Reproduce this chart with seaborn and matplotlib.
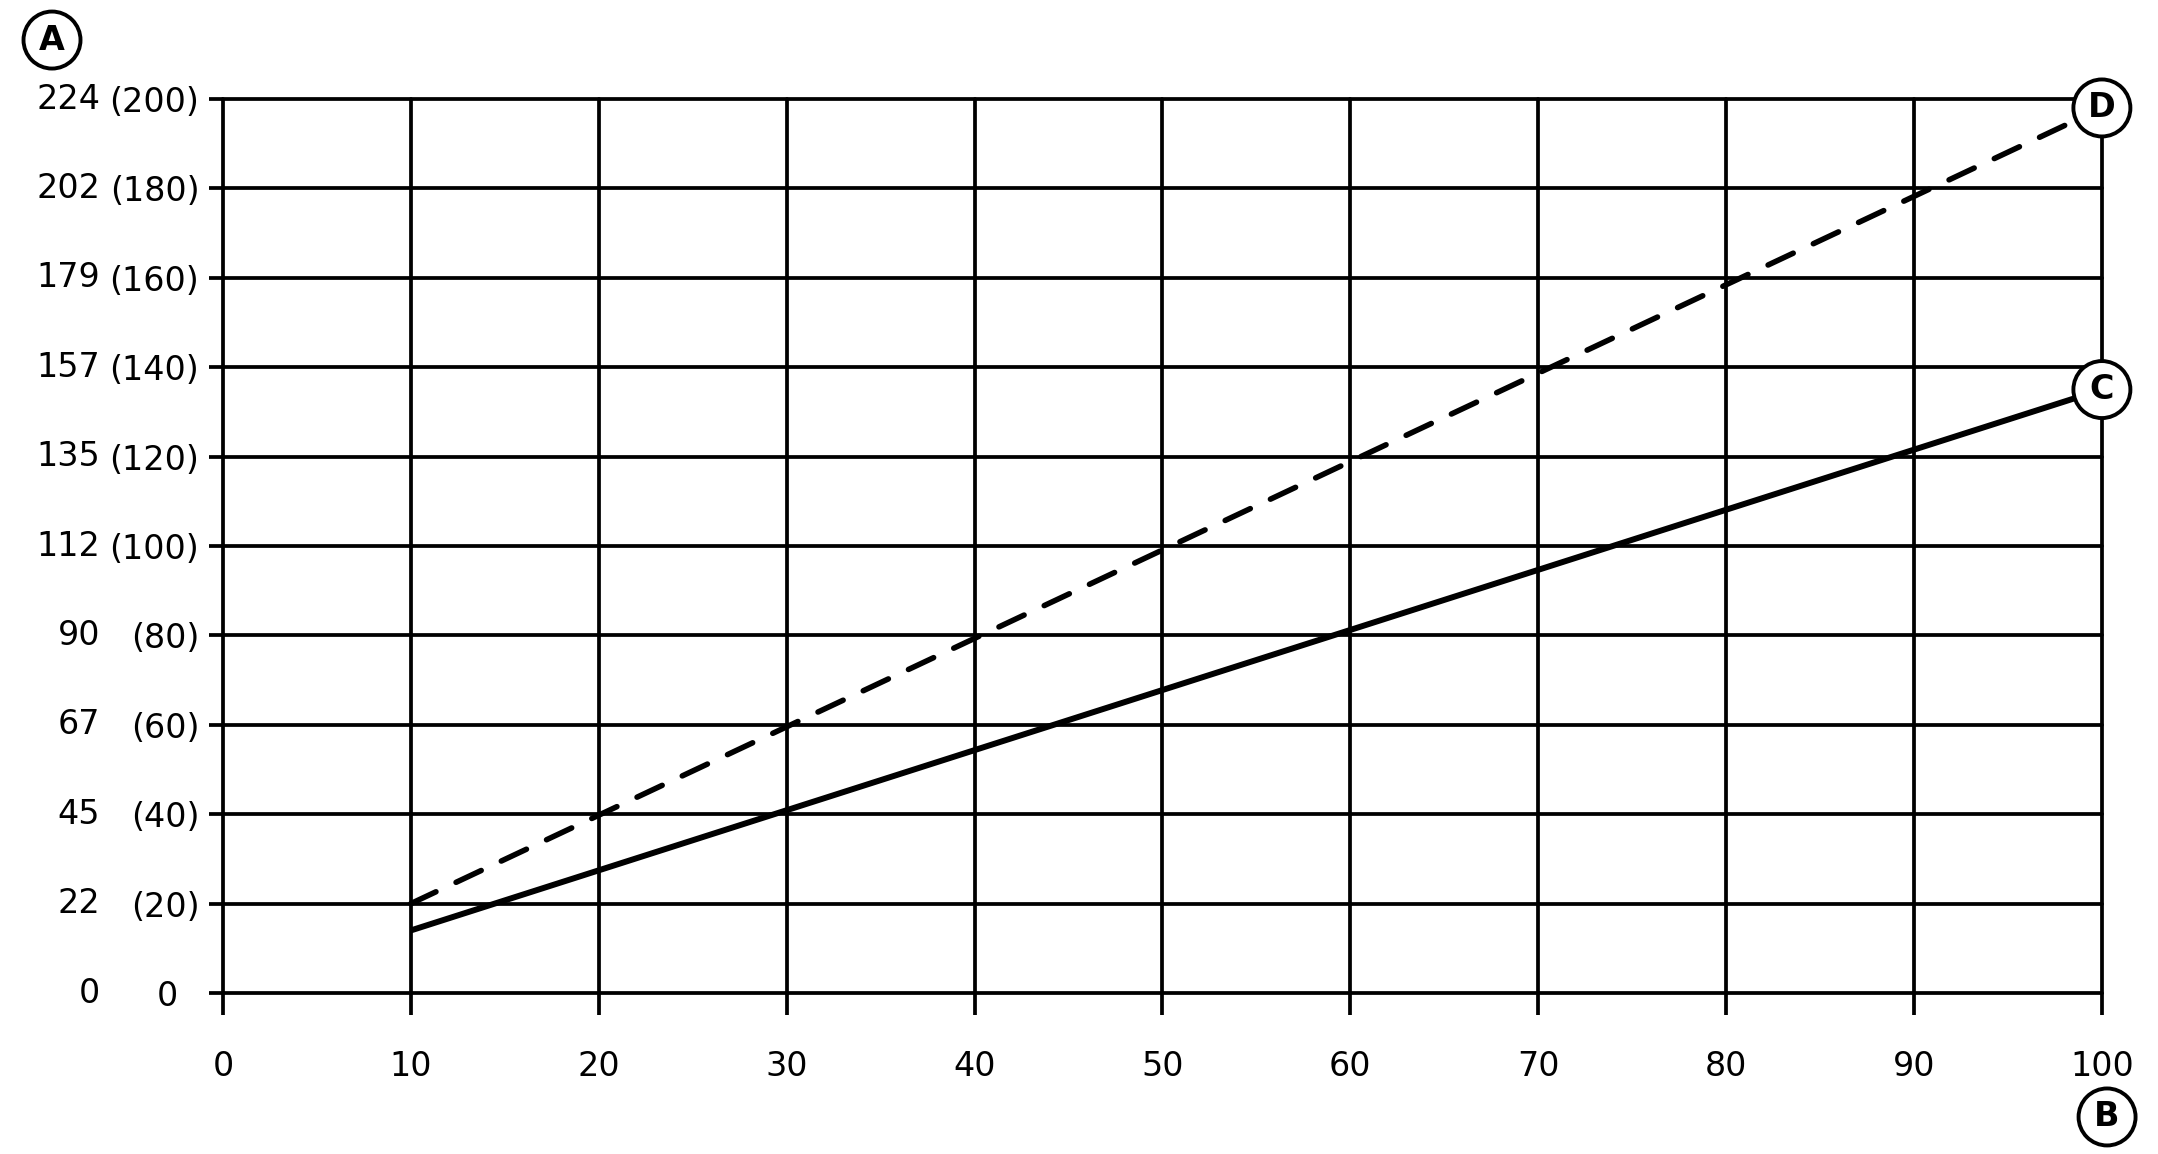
import matplotlib
matplotlib.use("Agg")
import matplotlib.pyplot as plt
import seaborn as sns
from pandas import DataFrame

# values
speed = [10, 100]
torque_c = [14, 135]
torque_d = [20, 198]
y_ticks = [0, 20, 40, 60, 80, 100, 120, 140, 160, 180, 200]
y_left_labels = ['0', '22', '45', '67', '90', '112', '135', '157', '179', '202', '224']
y_paren_labels = ['0  ', '(20)', '(40)', '(60)', '(80)', '(100)', '(120)',
                  '(140)', '(160)', '(180)', '(200)']
x_ticks = [0, 10, 20, 30, 40, 50, 60, 70, 80, 90, 100]

sns.set_style('white')
plt.rcParams['font.family'] = ['DejaVu Sans']
plt.rcParams['text.color'] = 'black'

df = DataFrame({'speed': speed + speed,
                'torque': torque_c + torque_d,
                'curve': ['C'] * len(speed) + ['D'] * len(speed)})

fig = plt.figure(figsize=(21.58, 11.54), dpi=100)
ax = fig.add_axes([0.1033, 0.1395, 0.9740 - 0.1033, 0.9142 - 0.1395])

fs = 24
grid_lw = 2.7
ax.set_xlim(0, 100)
ax.set_ylim(0, 200)
ax.set_xticks(x_ticks)
ax.set_xticklabels([str(v) for v in x_ticks], fontsize=fs)
ax.set_yticks(y_ticks)
ax.set_yticklabels(y_paren_labels, fontsize=fs)
ax.grid(True, color='black', linewidth=grid_lw, zorder=1)
ax.set_axisbelow(True)
for s in ax.spines.values():
    s.set_visible(False)
ax.tick_params(axis='x', direction='out', length=16, width=grid_lw, pad=25,
               colors='black', bottom=True)
ax.tick_params(axis='y', direction='out', length=10, width=grid_lw, pad=7,
               colors='black', left=True)
for gl in ax.get_xgridlines() + ax.get_ygridlines():
    gl.set_clip_on(False)

# left column of y labels
for v, lab in zip(y_ticks, y_left_labels):
    ax.annotate(lab, xy=(0, v), xycoords=('axes fraction', 'data'),
                xytext=(-88.5, 0), textcoords='offset points',
                ha='right', va='center', fontsize=fs, color='black')

sns.lineplot(data=df[df['curve'] == 'C'], x='speed', y='torque', ax=ax,
             color='black', linewidth=4.3, solid_capstyle='butt', zorder=3)
line_d = sns.lineplot(data=df[df['curve'] == 'D'], x='speed', y='torque', ax=ax,
                      color='black', linewidth=4.0, zorder=3).lines[-1]
line_d.set_dashes((5, 4))
line_d.set_dash_capstyle('round')
ax.set_xlabel('')
ax.set_ylabel('')

circ = dict(boxstyle='circle,pad=0.36', fc='white', ec='black', lw=2.8)
lab_kw = dict(ha='center', va='center', fontsize=24, fontweight='bold',
              color='black', bbox=circ)
ax.text(100, torque_d[-1], 'D', zorder=5, clip_on=False, **lab_kw)
ax.text(100, torque_c[-1], 'C', zorder=5, clip_on=False, **lab_kw)
fig.text(0.0241, 0.9653, 'A', **lab_kw)
fig.text(0.9764, 0.0321, 'B', **lab_kw)

fig.savefig('out.png', dpi=100)
